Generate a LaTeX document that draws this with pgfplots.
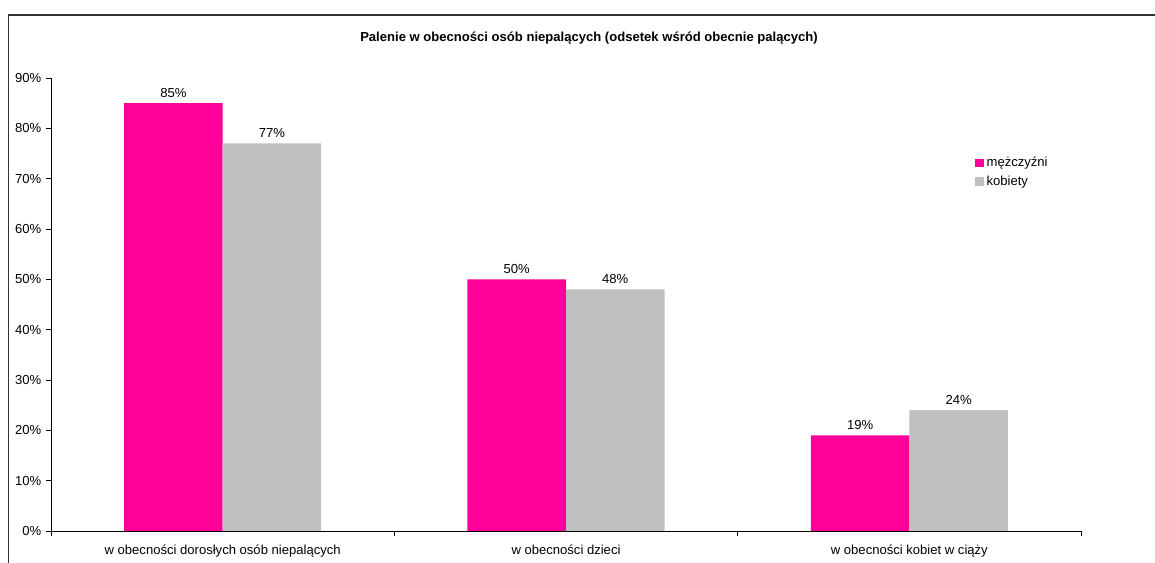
\documentclass[border=0pt]{standalone}
\usepackage{pgfplots}
\pgfplotsset{compat=1.18}
\usepackage{fontspec}
\setmainfont{Liberation Sans}
\definecolor{pinkbar}{HTML}{FF0099}
\definecolor{graybar}{HTML}{C0C0C0}
\begin{document}
\begin{tikzpicture}[x=0.75pt,y=0.75pt]
\path[use as bounding box] (0,0) rectangle (1155,563);
\draw[line width=1.2pt, black!80] (8.5,0) -- (8.5,548) -- (1155,548);
\node[font=\bfseries\fontsize{9.8}{11}\selectfont] at (589,524.5) {Palenie w obecności osób niepalących (odsetek wśród obecnie palących)};
\begin{axis}[
  at={(38.25pt,24pt)}, anchor=south west,
  scale only axis, width=772.5pt, height=339.75pt,
  xmin=-0.5, xmax=2.5, ymin=0, ymax=90,
  axis lines=left, axis line style={-, line width=0.6pt},
  ybar=0pt, bar width=73.9pt,
  xtick={0,1,2},
  xticklabels={w obecności dorosłych osób niepalących, w obecności dzieci, w obecności kobiet w ciąży},
  xticklabel style={yshift=-3pt},
  minor xtick={-0.5,0.5,1.5,2.5},
  major x tick style={draw=none},
  minor tick length=3.75pt,
  ytick={0,10,...,90},
  yticklabels={0\%,10\%,20\%,30\%,40\%,50\%,60\%,70\%,80\%,90\%},
  major tick length=3.75pt,
  tick align=outside,
  tick style={black, line width=0.6pt},
  ticklabel style={font=\fontsize{9.8}{11}\selectfont},
  nodes near coords={\pgfmathprintnumber[assume math mode=true]{\pgfplotspointmeta}\%},
  every node near coord/.append style={font=\fontsize{9.8}{11}\selectfont, black, yshift=1pt},
  legend style={at={(axis cs:2.187,75.1)}, anchor=north west, draw=none, fill=none,
    font=\fontsize{9.8}{11}\selectfont, row sep=1pt, inner sep=1pt},
  legend cell align=left,
  legend image code/.code={\fill[#1] (0pt,-3.3pt) rectangle (6.6pt,3.3pt);},
]
\addplot[fill=pinkbar, draw=none] coordinates {(0,85) (1,50) (2,19)};
\addplot[fill=graybar, draw=none] coordinates {(0,77) (1,48) (2,24)};
\legend{mężczyźni, kobiety}
\end{axis}
\end{tikzpicture}
\end{document}
